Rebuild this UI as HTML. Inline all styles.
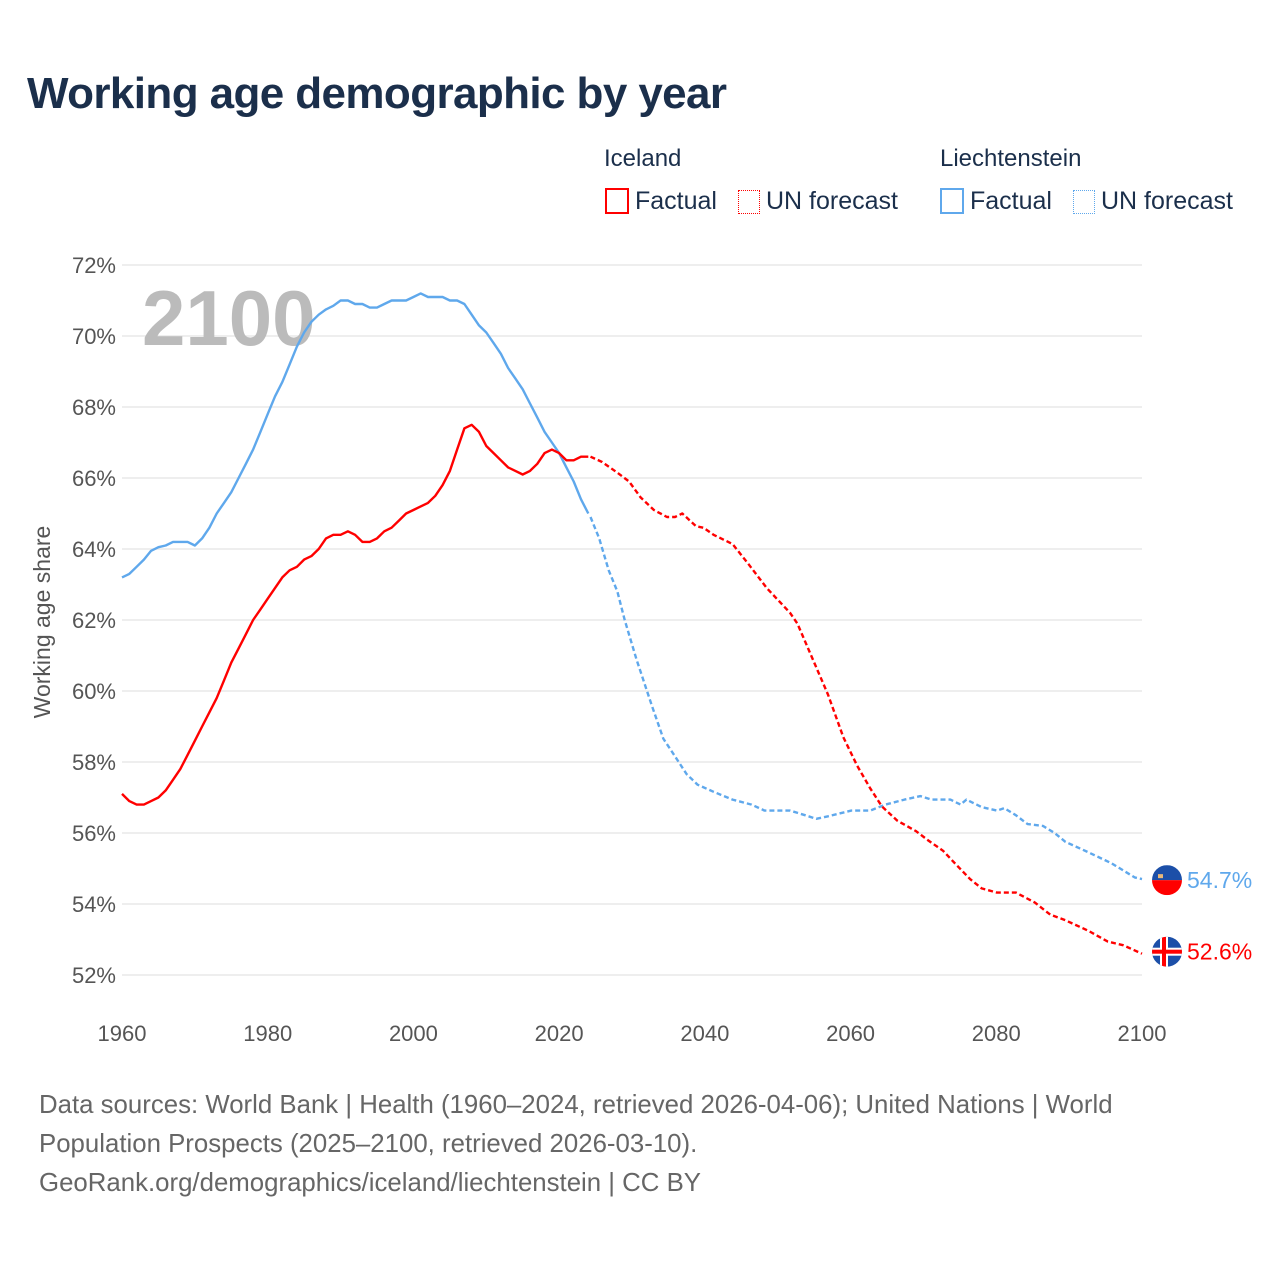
<!DOCTYPE html>
<html><head><meta charset="utf-8">
<style>
body{margin:0;background:#fff;}
#root{position:relative;width:1280px;height:1280px;font-family:"Liberation Sans",sans-serif;overflow:hidden;}
.t{position:absolute;white-space:nowrap;}
</style></head>
<body>
<div id="root">
<div class="t" style="left:27px;top:69px;font-size:44px;font-weight:bold;color:#1b2f4b;letter-spacing:-0.6px;">Working age demographic by year</div>

<div class="t" style="left:604px;top:145px;font-size:24px;color:#1b2f4b;">Iceland</div>
<div class="t" style="left:940px;top:145px;font-size:24px;color:#1b2f4b;">Liechtenstein</div>

<div class="t" style="left:605px;top:187px;font-size:25px;color:#1b2f4b;"><span style="display:inline-block;width:20px;height:22px;border:2px solid #ff0000;vertical-align:-5px;margin-right:6px;"></span>Factual</div>
<div class="t" style="left:738px;top:187px;font-size:25px;color:#1b2f4b;"><span style="display:inline-block;width:20px;height:22px;border:1.5px dotted #ff0000;vertical-align:-5px;margin-right:6px;"></span>UN forecast</div>
<div class="t" style="left:940px;top:187px;font-size:25px;color:#1b2f4b;"><span style="display:inline-block;width:20px;height:22px;border:2px solid #5fa8ec;vertical-align:-5px;margin-right:6px;"></span>Factual</div>
<div class="t" style="left:1073px;top:187px;font-size:25px;color:#1b2f4b;"><span style="display:inline-block;width:20px;height:22px;border:1.5px dotted #5fa8ec;vertical-align:-5px;margin-right:6px;"></span>UN forecast</div>

<svg id="chart" width="1280" height="1280" style="position:absolute;left:0;top:0;" xmlns="http://www.w3.org/2000/svg"></svg>

<div class="t" style="left:39px;top:1086px;font-size:25.8px;line-height:39px;color:#666;">Data sources: World Bank | Health (1960–2024, retrieved 2026-04-06); United Nations | World<br>Population Prospects (2025–2100, retrieved 2026-03-10).<br>GeoRank.org/demographics/iceland/liechtenstein | CC BY</div>
</div>
<script>
const yTicks=[52,54,56,58,60,62,64,66,68,70,72];
const xTicks=[1960,1980,2000,2020,2040,2060,2080,2100];
const isYears=[1960,1961,1962,1963,1964,1965,1966,1967,1968,1969,1970,1971,1972,1973,1974,1975,1976,1977,1978,1979,1980,1981,1982,1983,1984,1985,1986,1987,1988,1989,1990,1991,1992,1993,1994,1995,1996,1997,1998,1999,2000,2001,2002,2003,2004,2005,2006,2007,2008,2009,2010,2011,2012,2013,2014,2015,2016,2017,2018,2019,2020,2021,2022,2023,2024];
const isValues=[57.1,56.9,56.8,56.8,56.9,57.0,57.2,57.5,57.8,58.2,58.6,59.0,59.4,59.8,60.3,60.8,61.2,61.6,62.0,62.3,62.6,62.9,63.2,63.4,63.5,63.7,63.8,64.0,64.3,64.4,64.4,64.5,64.4,64.2,64.2,64.3,64.5,64.6,64.8,65.0,65.1,65.2,65.3,65.5,65.8,66.2,66.8,67.4,67.5,67.3,66.9,66.7,66.5,66.3,66.2,66.1,66.2,66.4,66.7,66.8,66.7,66.5,66.5,66.6,66.6];
const isFcYears=[2024.3,2025.9,2028,2029.6,2031.2,2033,2034.8,2035.9,2036.9,2038.8,2039.8,2041.2,2043.8,2045.9,2048.5,2051.7,2052.7,2054.8,2056.9,2059,2060.9,2062.7,2064.3,2066.4,2069,2070.6,2072.7,2074.3,2076.4,2078,2080.1,2082.7,2085.3,2087.4,2089.5,2092.7,2095.3,2097.4,2100];
const isFcValues=[66.6,66.45,66.15,65.9,65.45,65.1,64.9,64.9,65.0,64.64,64.6,64.4,64.14,63.6,62.9,62.2,61.9,60.9,59.9,58.7,57.9,57.26,56.75,56.35,56.05,55.8,55.5,55.15,54.7,54.44,54.32,54.32,54.04,53.7,53.54,53.24,52.94,52.84,52.6];
const liYears=isYears;
const liValues=[63.2,63.3,63.5,63.7,63.95,64.05,64.1,64.2,64.2,64.2,64.1,64.3,64.6,65.0,65.3,65.6,66.0,66.4,66.8,67.3,67.8,68.3,68.7,69.2,69.7,70.1,70.4,70.6,70.75,70.85,71.0,71.0,70.9,70.9,70.8,70.8,70.9,71.0,71.0,71.0,71.1,71.2,71.1,71.1,71.1,71.0,71.0,70.9,70.6,70.3,70.1,69.8,69.5,69.1,68.8,68.5,68.1,67.7,67.3,67.0,66.7,66.3,65.9,65.4,65.0];
const liFcYears=[2024.3,2025.5,2026.8,2028,2029,2030.6,2032.7,2034.3,2035.9,2037.5,2039,2041.2,2043.8,2046.4,2048.2,2051.7,2053.8,2055.3,2056.9,2060.1,2062.7,2064.8,2067.4,2069.6,2071.1,2073.7,2075.1,2075.9,2078,2080.1,2081.1,2082.7,2084.3,2086.4,2088,2089.5,2092.7,2095.8,2099,2100];
const liFcValues=[64.9,64.3,63.4,62.8,62.0,60.9,59.6,58.66,58.16,57.66,57.36,57.16,56.94,56.8,56.63,56.63,56.5,56.4,56.47,56.63,56.63,56.8,56.94,57.04,56.94,56.94,56.8,56.94,56.73,56.63,56.7,56.5,56.25,56.2,56.0,55.75,55.45,55.15,54.75,54.7];

const NS="http://www.w3.org/2000/svg";
const svg=document.getElementById('chart');
const X=y=>122+(y-1960)*(1020/140);
const Y=v=>265+(72-v)*35.5;
function mk(tag,attrs){const e=document.createElementNS(NS,tag);for(const k in attrs)e.setAttribute(k,attrs[k]);svg.appendChild(e);return e;}
yTicks.forEach(v=>{
  const g=mk('line',{x1:122,x2:1142,y1:Y(v),y2:Y(v),stroke:'#e8e8e8','stroke-width':1.5});
  
  
  const t=mk('text',{x:116,y:Y(v)+8,'text-anchor':'end','font-size':22,fill:'#555','font-family':'Liberation Sans, sans-serif'});
  t.textContent=v+'%';
  
  
});
xTicks.forEach(yr=>{
  const t=mk('text',{x:X(yr),y:1041,'text-anchor':'middle','font-size':22,fill:'#555','font-family':'Liberation Sans, sans-serif'});
  t.textContent=yr;
  
  
});
const yt=mk('text',{x:0,y:0,transform:'translate(50,622) rotate(-90)','text-anchor':'middle','font-size':23,fill:'#555','font-family':'Liberation Sans, sans-serif'});
yt.textContent='Working age share';


const big=mk('text',{x:142,y:345,'font-size':78,'font-weight':'bold',fill:'#bbbbbb','font-family':'Liberation Sans, sans-serif'});
big.textContent='2100';


function line(xs,vs,color,dash,name){
  const d=xs.map((x,i)=>(i?'L':'M')+X(x).toFixed(1)+','+Y(vs[i]).toFixed(1)).join('');
  const p=mk('path',{d:d,fill:'none',stroke:color,'stroke-width':2.4,'stroke-linejoin':'round'});
  if(dash)p.setAttribute('stroke-dasharray','5,3');
  
  
}
line(liYears,liValues,'#5fa8ec',false,'liechtenstein-factual-line');
line(liFcYears,liFcValues,'#5fa8ec',true,'liechtenstein-forecast-line');
line(isYears,isValues,'#ff0000',false,'iceland-factual-line');
line(isFcYears,isFcValues,'#ff0000',true,'iceland-forecast-line');

const liEnd=liFcValues[liFcValues.length-1], isEnd=isFcValues[isFcValues.length-1];
function flag(cy,type){
  const cx=1167,r=15;
  const cp=mk('clipPath',{id:'c'+type});
  const c=document.createElementNS(NS,'circle');c.setAttribute('cx',cx);c.setAttribute('cy',cy);c.setAttribute('r',r);cp.appendChild(c);
  const g=mk('g',{'clip-path':'url(#c'+type+')'});
  
  
  function r_(x,y,w,h,f){const e=document.createElementNS(NS,'rect');e.setAttribute('x',x);e.setAttribute('y',y);e.setAttribute('width',w);e.setAttribute('height',h);e.setAttribute('fill',f);g.appendChild(e);}
  if(type==='liechtenstein'){r_(cx-r,cy-r,2*r,r,'#1c4fa8');r_(cx-r,cy,2*r,r,'#ff0000');r_(cx-9,cy-6,5,4,'#e8b87a');}
  else{r_(cx-r,cy-r,2*r,2*r,'#1c4fa8');r_(cx-r,cy-4,2*r,8,'#fff');r_(cx-7,cy-r,8,2*r,'#fff');r_(cx-r,cy-2,2*r,4,'#ff0000');r_(cx-5,cy-r,4,2*r,'#ff0000');}
}
flag(Y(liEnd)+1,'liechtenstein');
flag(Y(isEnd)-2,'iceland');
const l1=mk('text',{x:1187,y:Y(liEnd)+9,'font-size':23,fill:'#5fa8ec','font-family':'Liberation Sans, sans-serif'});
l1.textContent=liEnd.toFixed(1)+'%';


const l2=mk('text',{x:1187,y:Y(isEnd)+6,'font-size':23,fill:'#ff0000','font-family':'Liberation Sans, sans-serif'});
l2.textContent=isEnd.toFixed(1)+'%';


</script>
</body></html>
